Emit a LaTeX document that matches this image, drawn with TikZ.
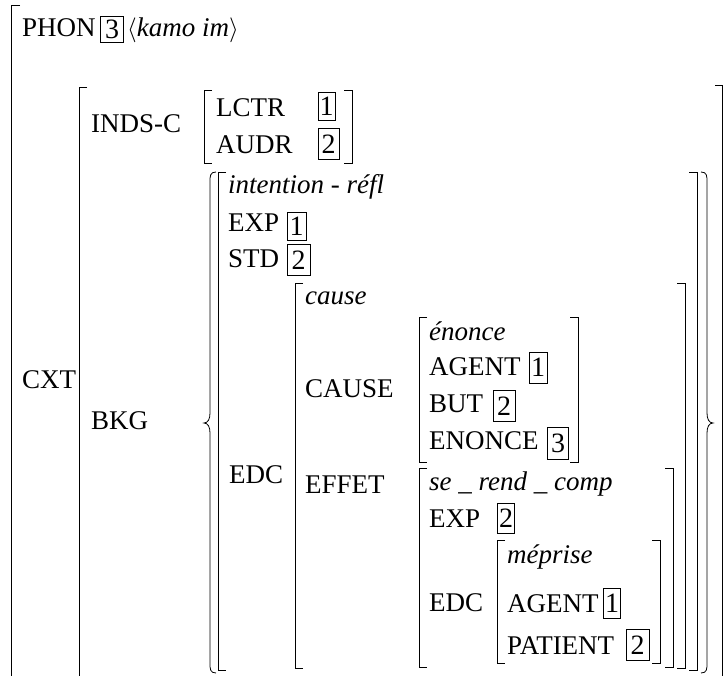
\documentclass[tikz,border=0pt]{standalone}
\usepackage{fontspec}
\setmainfont{Liberation Serif}
\newcommand\avmL[3]{\draw[brk] (#1+8,#2) -- (#1,#2) -- (#1,#3) -- (#1+8,#3);}
\newcommand\avmR[3]{\draw[brk] (#1-8,#2) -- (#1,#2) -- (#1,#3) -- (#1-8,#3);}
\begin{document}
\begin{tikzpicture}[x=1pt,y=-1pt,
  lbl/.style={anchor=base west, inner sep=0pt, font=\fontsize{27}{32}\selectfont},
  tag/.style={draw, line width=0.8pt, inner sep=0pt, font=\fontsize{28}{32}\selectfont},
  brk/.style={line width=0.8pt}]
\useasboundingbox (0,0) rectangle (725,676);
\begin{scope}
\clip (0,0) rectangle (725,676);
% outer bracket
\draw[brk] (20,5) -- (11,5) -- (11,680);
% CXT bracket
\draw[brk] (87,87) -- (79,87) -- (79,680);
\draw[brk] (715,85) -- (722,85) -- (722,680);
\end{scope}
% PHON
\node[lbl] (phon) at (22,37) {PHON};
\node[tag, minimum width=23pt, minimum height=26pt] (t3a) at (112,29) {3};
\node[lbl] (kamo) at (127,37) {$\langle$\textit{kamo im}$\rangle$};
% CXT
\node[lbl] (cxt) at (22,388) {CXT};
\node[lbl] (inds) at (91,133) {INDS-C};
\avmL{204}{90}{163}
\avmR{352}{90}{163}
\node[lbl] (lctr) at (216,117) {LCTR};
\node[tag, minimum width=17pt, minimum height=28pt] (t1a) at (326.5,106) {1};
\node[lbl] (audr) at (216,154) {AUDR};
\node[tag, minimum width=21pt, minimum height=31pt] (t2a) at (328.5,144) {2};
\node[lbl] (bkg) at (91,429) {BKG};
% braces
\draw[brk] (216,172) .. controls (210,172) and (210,176) .. (210,182) -- (210,413)
  .. controls (210,419) and (208,423) .. (204,423)
  .. controls (208,423) and (210,427) .. (210,433) -- (210,663)
  .. controls (210,669) and (210,673) .. (216,673);
\draw[brk] (701,172) .. controls (707,172) and (707,176) .. (707,182) -- (707,413)
  .. controls (707,419) and (709,423) .. (713,423)
  .. controls (709,423) and (707,427) .. (707,433) -- (707,663)
  .. controls (707,669) and (707,673) .. (701,673);
% intention-refl
\avmL{218}{172}{670}
\avmR{697}{172}{670}
\node[lbl] (intr) at (228,194) {\textit{intention - réfl}};
\node[lbl] (exp1) at (228,232) {EXP};
\node[tag, minimum width=19pt, minimum height=28pt] (t1b) at (296.5,226.5) {1};
\node[lbl] (std) at (228,268) {STD};
\node[tag, minimum width=23pt, minimum height=31pt] (t2b) at (298.5,260) {2};
\node[lbl] (edc1) at (229,483) {EDC};
% cause
\avmL{295}{283}{668}
\avmR{685}{283}{668}
\node[lbl] (cause) at (305,304) {\textit{cause}};
\node[lbl] (causek) at (305,397) {CAUSE};
\node[lbl] (effet) at (305,493) {EFFET};
% enonce
\avmL{419}{317}{462}
\avmR{578}{317}{462}
\node[lbl] (enonce) at (429,340) {\textit{énonce}};
\node[lbl] (agent1) at (429,375) {AGENT};
\node[tag, minimum width=18pt, minimum height=31pt] (t1c) at (538,367.5) {1};
\node[lbl] (but) at (429,412) {BUT};
\node[tag, minimum width=22pt, minimum height=31pt] (t2c) at (504,406) {2};
\node[lbl] (enoncek) at (429,449) {ENONCE};
\node[tag, minimum width=21pt, minimum height=32pt] (t3b) at (558,443) {3};
% se_rend_comp
\avmL{419}{468}{667}
\avmR{673}{468}{667}
\node[lbl] (srend) at (429,490) {\textit{se \_ rend \_ comp}};
\node[lbl] (exp2) at (429,527) {EXP};
\node[tag, minimum width=17pt, minimum height=30pt] (t2d) at (506,518) {2};
\node[lbl] (edc2) at (429,611) {EDC};
% meprise
\avmL{497}{540}{663}
\avmR{660}{540}{663}
\node[lbl] (meprise) at (507,563) {\textit{méprise}};
\node[lbl] (agent2) at (507,612) {AGENT};
\node[tag, minimum width=17pt, minimum height=30pt] (t1d) at (612,603) {1};
\node[lbl] (patient) at (507,654) {PATIENT};
\node[tag, minimum width=23pt, minimum height=31pt] (t2e) at (637.5,645) {2};
\end{tikzpicture}
\end{document}
